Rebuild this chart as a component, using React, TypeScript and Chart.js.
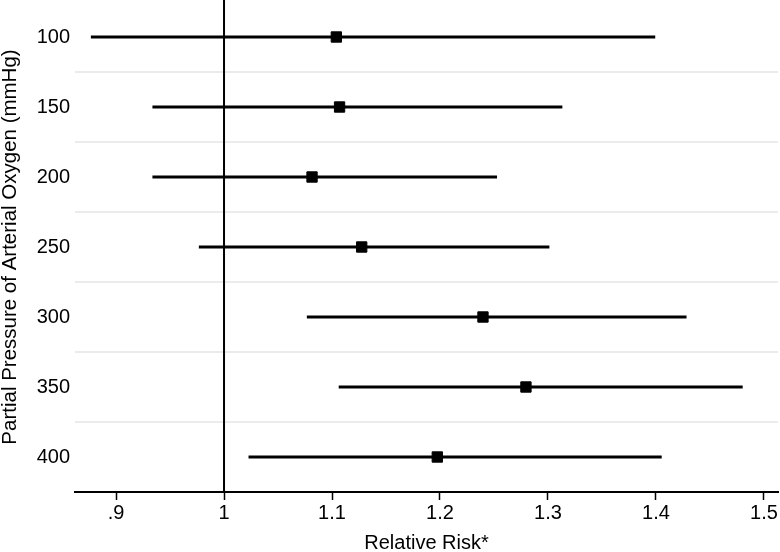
import { useEffect, useRef } from 'react';
import { Chart, registerables } from 'chart.js';

Chart.register(...registerables);

// ---- data ----
const categories = ['100', '150', '200', '250', '300', '350', '400'];
const lowerCI = [0.877, 0.934, 0.934, 0.977, 1.077, 1.1065, 1.023];
const upperCI = [1.399, 1.313, 1.2525, 1.301, 1.428, 1.48, 1.405];
const estimates = [1.104, 1.107, 1.0815, 1.1275, 1.2398, 1.2796, 1.1975];
const xTickValues = [0.9, 1, 1.1, 1.2, 1.3, 1.4, 1.5];
const xTickLabels = ['.9', '1', '1.1', '1.2', '1.3', '1.4', '1.5'];
const referenceValue = 1;
const xMin = 0.862;
const xMax = 1.513;
const xTitle = 'Relative Risk*';
const yTitle = 'Partial Pressure of Arterial Oxygen (mmHg)';

const FONT_FAMILY = "'Liberation Sans', Arial, Helvetica, sans-serif";

const refLinePlugin = {
  id: 'refLine',
  beforeDatasetsDraw(chart: any) {
    const { ctx, chartArea, scales } = chart;
    const x = scales.x.getPixelForValue(referenceValue);
    ctx.save();
    ctx.strokeStyle = '#000';
    ctx.lineWidth = 2;
    ctx.beginPath();
    ctx.moveTo(x, 0);
    ctx.lineTo(x, chartArea.bottom);
    ctx.stroke();
    ctx.restore();
  },
};

export default function App() {
  const canvasRef = useRef<HTMLCanvasElement | null>(null);

  useEffect(() => {
    document.body.style.margin = '0';
    const canvas = canvasRef.current;
    if (!canvas) return;
    const tickFont = { family: FONT_FAMILY, size: 20 };
    const chart = new Chart(canvas, {
      type: 'bar',
      data: {
        labels: categories,
        datasets: [
          {
            type: 'bar',
            data: categories.map((_, i) => [lowerCI[i], upperCI[i]]) as any,
            backgroundColor: '#000',
            borderWidth: 0,
            barThickness: 2.5,
          },
          {
            type: 'line',
            data: estimates,
            showLine: false,
            indexAxis: 'y',
            pointStyle: 'rect',
            pointRadius: 7.3,
            pointBackgroundColor: '#000',
            pointBorderColor: '#000',
            pointBorderWidth: 1,
          } as any,
        ],
      },
      options: {
        animation: false,
        responsive: false,
        indexAxis: 'y',
        layout: { autoPadding: false, padding: { top: 2, right: 2, left: 0, bottom: 0 } },
        plugins: {
          legend: { display: false },
          tooltip: { enabled: false },
        },
        scales: {
          x: {
            type: 'linear',
            min: xMin,
            max: xMax,
            afterBuildTicks: (s: any) => {
              s.ticks = xTickValues.map((v) => ({ value: v }));
            },
            afterFit: (s: any) => {
              s.height = 60;
              s.paddingLeft = 0;
              s.paddingRight = 0;
              s.paddingTop = 0;
              s.paddingBottom = 0;
            },
            ticks: {
              callback: (_v: any, i: number) => xTickLabels[i],
              color: '#000',
              font: tickFont,
              padding: 1,
              maxRotation: 0,
              autoSkip: false,
            },
            grid: {
              drawOnChartArea: false,
              drawTicks: true,
              tickLength: 8,
              tickColor: '#000',
              tickWidth: 1.5,
            },
            border: { display: true, color: '#000', width: 2 },
            title: {
              display: true,
              text: xTitle,
              color: '#000',
              font: { family: FONT_FAMILY, size: 20, lineHeight: 0.9 },
              padding: { top: 0, bottom: 0 },
            },
          },
          y: {
            type: 'category',
            labels: categories,
            offset: true,
            afterFit: (s: any) => {
              s.width = 75;
              s.paddingLeft = 0;
              s.paddingRight = 0;
              s.paddingTop = 0;
              s.paddingBottom = 0;
            },
            grid: {
              offset: true,
              drawTicks: false,
              color: (ctx: any) =>
                ctx.type === 'tick' && ctx.index > 0 ? '#ebebeb' : 'rgba(0,0,0,0)',
              lineWidth: 2,
            },
            border: { display: false },
            ticks: { color: '#000', font: tickFont, padding: 5 },
            title: {
              display: true,
              text: yTitle,
              color: '#000',
              font: { family: FONT_FAMILY, size: 20.5, lineHeight: 1 },
              padding: { top: 0, bottom: 0 },
            },
          },
        },
      } as any,
      plugins: [refLinePlugin],
    });
    return () => chart.destroy();
  }, []);

  return (
    <div style={{ position: 'fixed', left: 0, top: 0, width: 780, height: 552, background: '#fff' }}>
      <canvas ref={canvasRef} width={780} height={552} style={{ width: 780, height: 552, display: 'block' }} />
    </div>
  );
}
